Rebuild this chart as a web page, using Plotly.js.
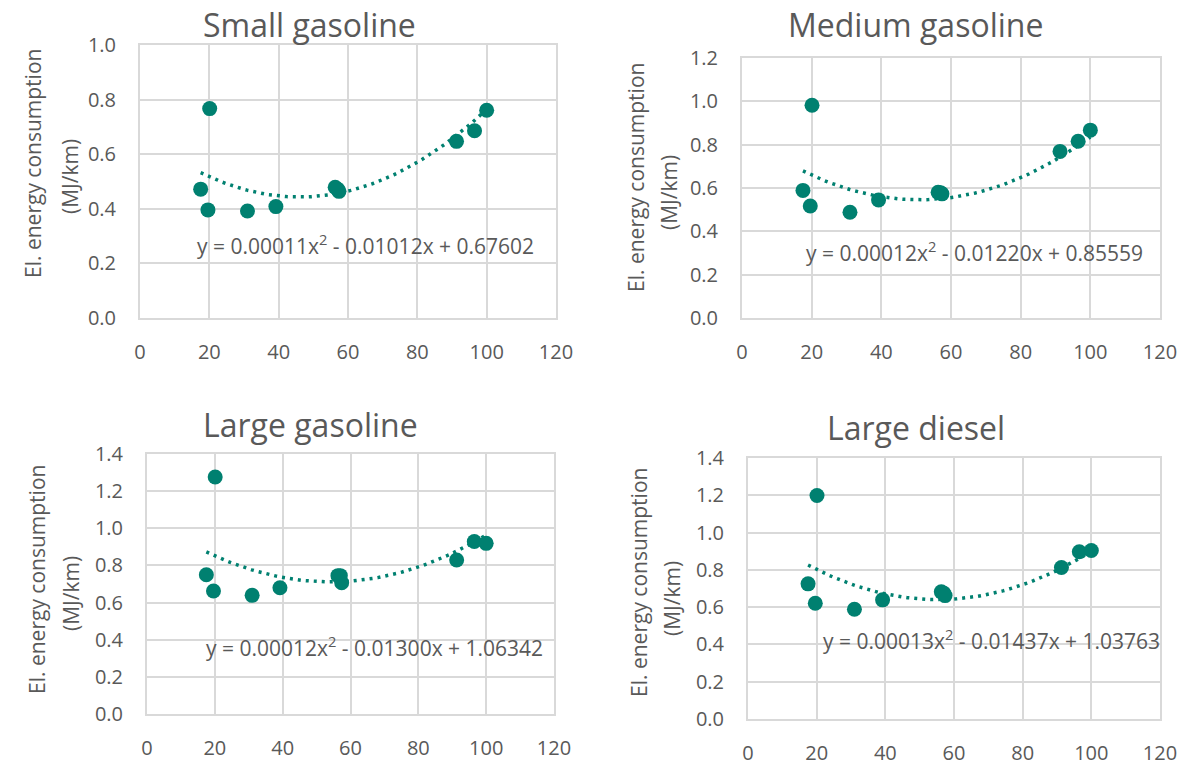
<!DOCTYPE html>
<html>
<head>
<meta charset="utf-8">
<script src="https://cdn.plot.ly/plotly-3.0.1.min.js"></script>
<style>html,body{margin:0;padding:0;background:#fff}#chart{width:1203px;height:765px}</style>
</head>
<body>
<div id="chart"></div>
<script>
// ---- data ----
const speed = [17.5, 19.6, 20.1, 31.0, 39.2, 56.3, 57.0, 57.4, 91.3, 96.5, 100.0];
const smallGasoline  = [0.472, 0.396, 0.767, 0.392, 0.408, 0.479, 0.472, 0.464, 0.647, 0.686, 0.761];
const mediumGasoline = [0.589, 0.517, 0.982, 0.488, 0.545, 0.580, 0.578, 0.573, 0.769, 0.816, 0.867];
const largeGasoline  = [0.750, 0.662, 1.276, 0.639, 0.680, 0.745, 0.745, 0.707, 0.829, 0.929, 0.919];
const largeDiesel    = [0.725, 0.621, 1.199, 0.589, 0.639, 0.682, 0.675, 0.662, 0.813, 0.897, 0.904];
const panelTitles = ["Small gasoline", "Medium gasoline", "Large gasoline", "Large diesel"];
// trendline coefficients [a (x^2), b (x), c] as printed on the chart
const coefSmall  = [0.00011, -0.01012, 0.67602];
const coefMedium = [0.00012, -0.01220, 0.85559];
const coefLargeG = [0.00012, -0.01300, 1.06342];
const coefLargeD = [0.00013, -0.01437, 1.03763];
const eqSmall  = "y = 0.00011x<sup>2</sup> - 0.01012x + 0.67602";
const eqMedium = "y = 0.00012x<sup>2</sup> - 0.01220x + 0.85559";
const eqLargeG = "y = 0.00012x<sup>2</sup> - 0.01300x + 1.06342";
const eqLargeD = "y = 0.00013x<sup>2</sup> - 0.01437x + 1.03763";
const yMax = [1.0, 1.2, 1.4, 1.4];
const xTicks = [0, 20, 40, 60, 80, 100, 120];

// ---- drawing ----
const W = 1203, H = 765;
const teal = "rgb(0,128,112)";
const grey = "#595959";
const gridC = "#d9d9d9";
const FONT = "Open Sans, sans-serif";
const px = v => v / W;
const py = v => 1 - v / H;

const series = [smallGasoline, mediumGasoline, largeGasoline, largeDiesel];
const coefs = [coefSmall, coefMedium, coefLargeG, coefLargeD];
const eqs = [eqSmall, eqMedium, eqLargeG, eqLargeD];

// plot-area boxes in pixels [left, right, top, bottom]
const boxes = [[140, 556, 45, 318], [742, 1160, 58, 318], [147, 554, 454, 714], [748, 1160, 458, 719]];
const titlePos = [[309, 25], [915, 25], [310, 424], [916, 427]];
const ytitle1 = [[33, 164], [636, 178], [37, 580], [639, 583]];
const ytitle2 = [[70, 177], [669, 193], [71, 594], [672, 599]];
const eqPos = [[195, 243], [804, 250], [204, 644], [821, 637]];

const data = [];
const layout = {
  width: W, height: H, margin: {l: 0, r: 0, t: 0, b: 0},
  paper_bgcolor: "#fff", plot_bgcolor: "#fff", showlegend: false,
  font: {family: FONT, color: grey},
  annotations: []
};

series.forEach((ys, i) => {
  const n = i === 0 ? "" : String(i + 1);
  const xa = "x" + n, ya = "y" + n;
  // trendline over the data's x span, from the printed polynomial
  const xmin = Math.min(...speed), xmax = Math.max(...speed);
  const tx = [], ty = [];
  for (let k = 0; k <= 80; k++) {
    const x = xmin + (xmax - xmin) * k / 80;
    tx.push(x);
    ty.push(coefs[i][0] * x * x + coefs[i][1] * x + coefs[i][2]);
  }
  data.push({x: tx, y: ty, xaxis: xa, yaxis: ya, type: "scatter", mode: "lines",
    line: {color: teal, width: 3.5, dash: "3px,5px"}, hoverinfo: "skip"});
  data.push({x: speed, y: ys, xaxis: xa, yaxis: ya, type: "scatter", mode: "markers",
    marker: {color: teal, size: 15}});

  const b = boxes[i];
  const ytv = [];
  for (let v = 0; v <= yMax[i] + 1e-9; v += 0.2) ytv.push(+v.toFixed(1));
  layout["xaxis" + n] = {
    domain: [px(b[0]), px(b[1])], anchor: ya, range: [0, 120],
    tickvals: xTicks, ticktext: xTicks.map(String), ticks: "",
    showgrid: true, gridcolor: gridC, gridwidth: 2,
    showline: true, linecolor: gridC, linewidth: 2, mirror: true, zeroline: false,
    tickfont: {family: FONT, size: 20, color: grey}, ticklabelstandoff: 15
  };
  layout["yaxis" + n] = {
    domain: [py(b[3]), py(b[2])], anchor: xa, range: [0, yMax[i]],
    tickvals: ytv, ticktext: ytv.map(v => v.toFixed(1)), ticks: "",
    showgrid: true, gridcolor: gridC, gridwidth: 2,
    showline: true, linecolor: gridC, linewidth: 2, mirror: true, zeroline: false,
    tickfont: {family: FONT, size: 20, color: grey}, ticklabelstandoff: 18
  };
  layout.annotations.push({text: panelTitles[i], xref: "paper", yref: "paper",
    x: px(titlePos[i][0]), y: py(titlePos[i][1]), xanchor: "center", yanchor: "middle",
    showarrow: false, font: {family: FONT, size: 32, color: grey}});
  layout.annotations.push({text: "El. energy consumption", xref: "paper", yref: "paper",
    x: px(ytitle1[i][0]), y: py(ytitle1[i][1]), xanchor: "center", yanchor: "middle", textangle: -90,
    showarrow: false, font: {family: FONT, size: 21, color: grey}});
  layout.annotations.push({text: "(MJ/km)", xref: "paper", yref: "paper",
    x: px(ytitle2[i][0]), y: py(ytitle2[i][1]), xanchor: "center", yanchor: "middle", textangle: -90,
    showarrow: false, font: {family: FONT, size: 21, color: grey}});
  layout.annotations.push({text: eqs[i], xref: "paper", yref: "paper",
    x: px(eqPos[i][0]), y: py(eqPos[i][1] + 2), xanchor: "left", yanchor: "middle",
    showarrow: false, font: {family: FONT, size: 21, color: grey}});
});

Plotly.newPlot("chart", data, layout, {displayModeBar: false, staticPlot: true});
</script>
</body>
</html>
